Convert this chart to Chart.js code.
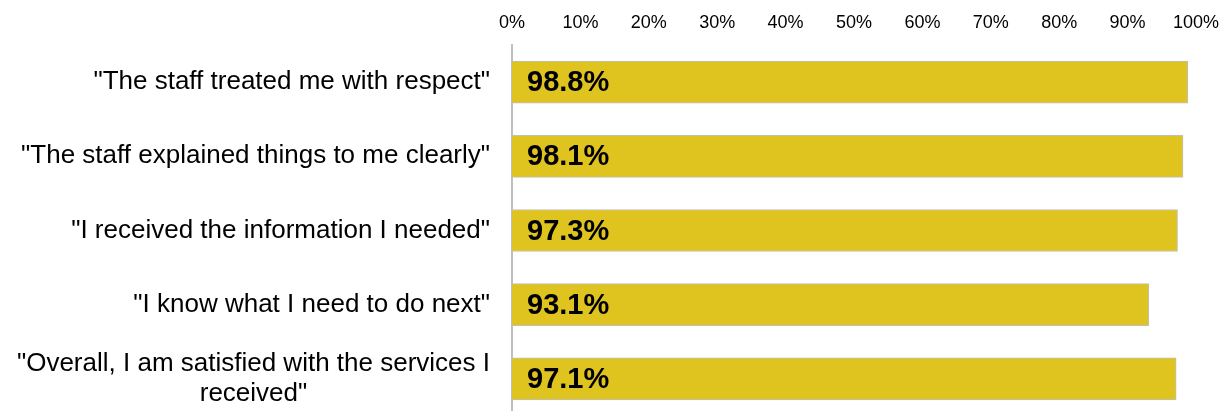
<!DOCTYPE html>
<html>
<head>
<meta charset="utf-8">
<script src="https://cdn.jsdelivr.net/npm/chart.js@4"></script>
<style>
    html, body { margin: 0; padding: 0; background: #fff; overflow: hidden; }
    #wrap { width: 1226px; height: 416px; }
</style>
</head>
<body>
<div id="wrap"><canvas id="satisfactionChart"></canvas></div>
<script>
const statements = [
    '"The staff treated me with respect"',
    '"The staff explained things to me clearly"',
    '"I received the information I needed"',
    '"I know what I need to do next"',
    ['"Overall, I am satisfied with the services I', 'received"']
];
const agreePercent = [98.8, 98.1, 97.3, 93.1, 97.1];
const xTicks = [0, 10, 20, 30, 40, 50, 60, 70, 80, 90, 100];

const fontFamily = "'Liberation Sans', Arial, sans-serif";

// writes the value inside each bar, near its left end
const barValueLabels = {
    id: 'barValueLabels',
    afterDatasetsDraw(chart) {
        const ctx = chart.ctx;
        const meta = chart.getDatasetMeta(0);
        ctx.save();
        ctx.font = 'bold 29px ' + fontFamily;
        ctx.fillStyle = '#000';
        ctx.textAlign = 'left';
        ctx.textBaseline = 'middle';
        meta.data.forEach((bar, i) => {
            ctx.fillText(agreePercent[i].toFixed(1) + '%', bar.base + 15, bar.y + 1);
        });
        ctx.restore();
    }
};

// category labels: block right-aligned to the axis, wrapped lines centred inside the block
const categoryLabels = {
    id: 'categoryLabels',
    afterDraw(chart) {
        const ctx = chart.ctx;
        const yScale = chart.scales.y;
        const right = chart.chartArea.left - 22;
        const lineHeight = 30;
        ctx.save();
        ctx.font = '26px ' + fontFamily;
        ctx.fillStyle = '#000';
        ctx.textAlign = 'center';
        ctx.textBaseline = 'middle';
        chart.data.labels.forEach((label, i) => {
            const lines = Array.isArray(label) ? label : [label];
            const blockWidth = Math.max(...lines.map(l => ctx.measureText(l).width));
            const cx = right - blockWidth / 2;
            const y0 = yScale.getPixelForTick(i) - (lines.length - 1) * lineHeight / 2;
            lines.forEach((line, j) => ctx.fillText(line, cx, y0 + j * lineHeight));
        });
        ctx.restore();
    }
};

const ctx = document.getElementById('satisfactionChart').getContext('2d');
const satisfactionChart = new Chart(ctx, {
    type: 'bar',
    data: {
        labels: statements,
        datasets: [{
            data: agreePercent,
            backgroundColor: '#DFC41F',
            borderColor: '#BFBFBF',
            borderWidth: 1,
            barThickness: 42
        }]
    },
    options: {
        indexAxis: 'y',
        responsive: true,
        maintainAspectRatio: false,
        animation: false,
        layout: { padding: { left: 0, right: 30, top: 0, bottom: 0 } },
        plugins: {
            legend: { display: false },
            tooltip: { enabled: false }
        },
        scales: {
            x: {
                position: 'top',
                min: 0,
                max: 100,
                afterBuildTicks: scale => {
                    scale.ticks = xTicks.map(v => ({ value: v }));
                },
                afterFit: scale => {
                    scale.height = 45;
                    scale.paddingLeft = 0;
                    scale.paddingRight = 0;
                },
                grid: { display: false, drawTicks: false },
                border: { display: false },
                ticks: {
                    padding: 11,
                    color: '#000',
                    font: { family: fontFamily, size: 18 },
                    callback: v => v + '%'
                }
            },
            y: {
                afterFit: scale => {
                    scale.width = 512;
                    scale.paddingTop = 0;
                    scale.paddingBottom = 0;
                },
                grid: { display: false, drawTicks: false },
                border: { display: true, color: '#BFBFBF', width: 2 },
                ticks: { display: false }
            }
        }
    },
    plugins: [barValueLabels, categoryLabels]
});
</script>
</body>
</html>
